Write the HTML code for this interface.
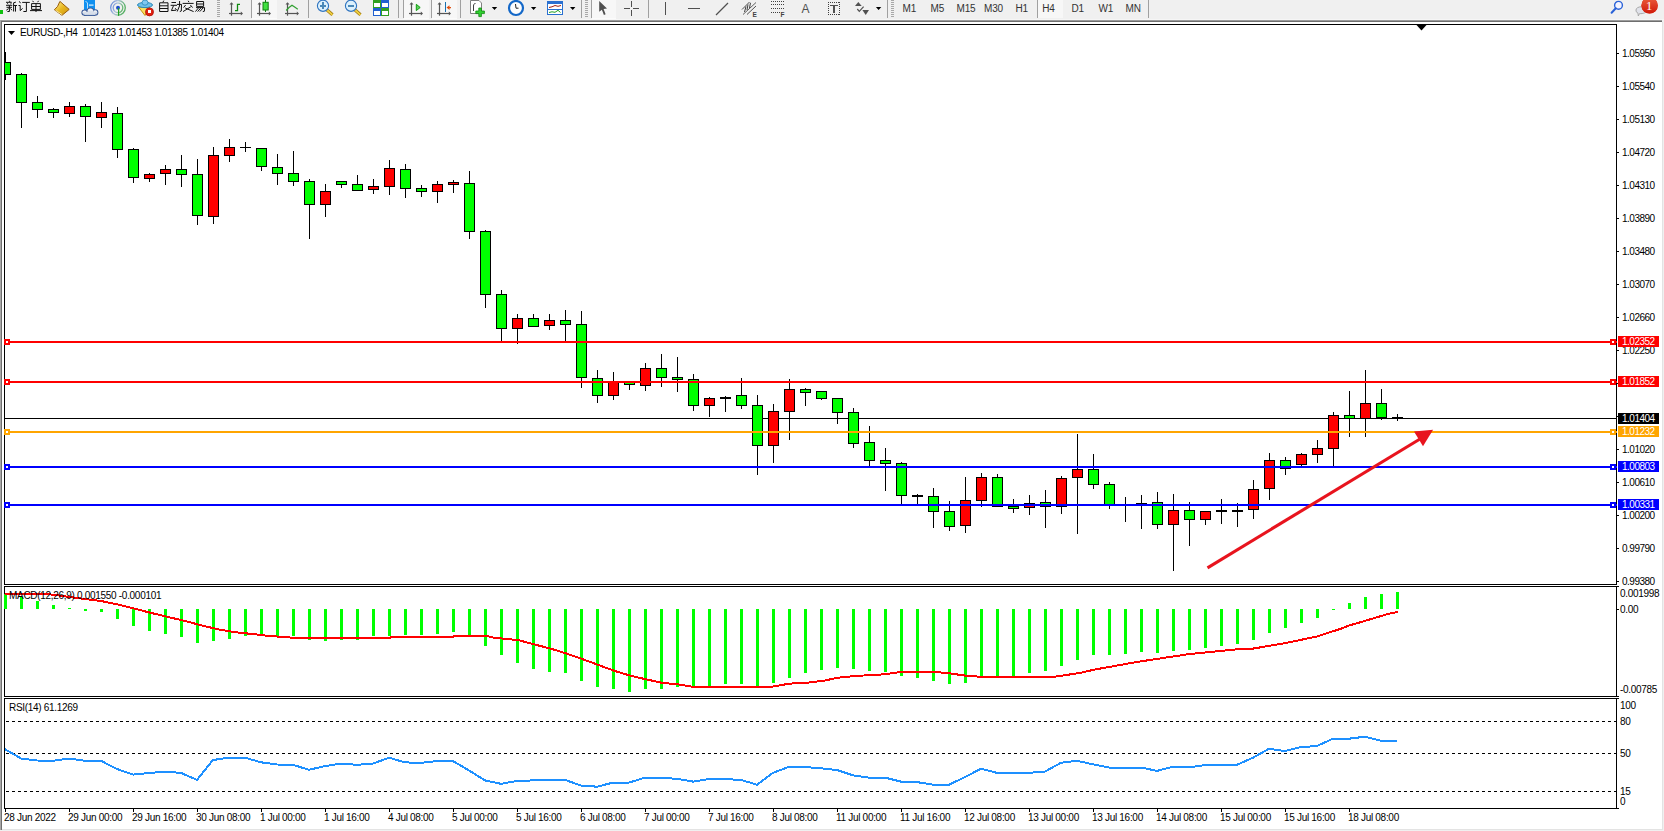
<!DOCTYPE html>
<html><head><meta charset="utf-8"><title>MT4</title><style>
html,body{margin:0;padding:0;width:1664px;height:831px;overflow:hidden;background:#f0f0f0;}
svg{position:absolute;left:0;top:0;font-family:"Liberation Sans",sans-serif;}
</style></head><body>
<svg width="1664" height="831" viewBox="0 0 1664 831" shape-rendering="crispEdges">
<rect x="0" y="0" width="1664" height="831" fill="#f0f0f0"/>
<rect x="0" y="19" width="1664" height="1" fill="#f6f6f6"/>
<rect x="0" y="20" width="1662" height="1" fill="#9c9c9c"/>
<rect x="0" y="21" width="1662" height="1" fill="#6e6e6e"/>
<rect x="2" y="22" width="1660" height="807" fill="#ffffff"/>
<rect x="0" y="20" width="1" height="810" fill="#a8a8a8"/>
<rect x="1" y="21" width="1" height="809" fill="#707070"/>
<rect x="1662" y="22" width="1" height="808" fill="#e3e3e3"/>
<rect x="2" y="829" width="1661" height="1" fill="#e3e3e3"/>
<rect x="5" y="418" width="1611" height="1" fill="#000"/>
<defs><clipPath id="cc"><rect x="5" y="25" width="1611" height="559"/></clipPath></defs><g clip-path="url(#cc)">
<rect x="5" y="52" width="1" height="28" fill="#000"/>
<rect x="0" y="62" width="11" height="13" fill="#000"/>
<rect x="1" y="63" width="9" height="11" fill="#00ff00"/>
<rect x="21" y="73" width="1" height="55" fill="#000"/>
<rect x="16" y="74" width="11" height="29" fill="#000"/>
<rect x="17" y="75" width="9" height="27" fill="#00ff00"/>
<rect x="37" y="96" width="1" height="22" fill="#000"/>
<rect x="32" y="102" width="11" height="8" fill="#000"/>
<rect x="33" y="103" width="9" height="6" fill="#00ff00"/>
<rect x="53" y="108" width="1" height="10" fill="#000"/>
<rect x="48" y="109" width="11" height="4" fill="#000"/>
<rect x="49" y="110" width="9" height="2" fill="#00ff00"/>
<rect x="69" y="102" width="1" height="15" fill="#000"/>
<rect x="64" y="106" width="11" height="8" fill="#000"/>
<rect x="65" y="107" width="9" height="6" fill="#ff0000"/>
<rect x="85" y="104" width="1" height="38" fill="#000"/>
<rect x="80" y="106" width="11" height="11" fill="#000"/>
<rect x="81" y="107" width="9" height="9" fill="#00ff00"/>
<rect x="101" y="102" width="1" height="26" fill="#000"/>
<rect x="96" y="112" width="11" height="6" fill="#000"/>
<rect x="97" y="113" width="9" height="4" fill="#ff0000"/>
<rect x="117" y="107" width="1" height="51" fill="#000"/>
<rect x="112" y="113" width="11" height="37" fill="#000"/>
<rect x="113" y="114" width="9" height="35" fill="#00ff00"/>
<rect x="133" y="148" width="1" height="35" fill="#000"/>
<rect x="128" y="149" width="11" height="29" fill="#000"/>
<rect x="129" y="150" width="9" height="27" fill="#00ff00"/>
<rect x="149" y="173" width="1" height="9" fill="#000"/>
<rect x="144" y="174" width="11" height="5" fill="#000"/>
<rect x="145" y="175" width="9" height="3" fill="#ff0000"/>
<rect x="165" y="165" width="1" height="20" fill="#000"/>
<rect x="160" y="169" width="11" height="5" fill="#000"/>
<rect x="161" y="170" width="9" height="3" fill="#ff0000"/>
<rect x="181" y="155" width="1" height="32" fill="#000"/>
<rect x="176" y="169" width="11" height="6" fill="#000"/>
<rect x="177" y="170" width="9" height="4" fill="#00ff00"/>
<rect x="197" y="159" width="1" height="66" fill="#000"/>
<rect x="192" y="174" width="11" height="42" fill="#000"/>
<rect x="193" y="175" width="9" height="40" fill="#00ff00"/>
<rect x="213" y="147" width="1" height="77" fill="#000"/>
<rect x="208" y="155" width="11" height="62" fill="#000"/>
<rect x="209" y="156" width="9" height="60" fill="#ff0000"/>
<rect x="229" y="139" width="1" height="23" fill="#000"/>
<rect x="224" y="147" width="11" height="9" fill="#000"/>
<rect x="225" y="148" width="9" height="7" fill="#ff0000"/>
<rect x="245" y="142" width="1" height="10" fill="#000"/>
<rect x="240" y="147" width="11" height="1" fill="#000"/>
<rect x="261" y="148" width="1" height="23" fill="#000"/>
<rect x="256" y="148" width="11" height="19" fill="#000"/>
<rect x="257" y="149" width="9" height="17" fill="#00ff00"/>
<rect x="277" y="154" width="1" height="31" fill="#000"/>
<rect x="272" y="167" width="11" height="7" fill="#000"/>
<rect x="273" y="168" width="9" height="5" fill="#00ff00"/>
<rect x="293" y="151" width="1" height="35" fill="#000"/>
<rect x="288" y="173" width="11" height="9" fill="#000"/>
<rect x="289" y="174" width="9" height="7" fill="#00ff00"/>
<rect x="309" y="179" width="1" height="60" fill="#000"/>
<rect x="304" y="181" width="11" height="24" fill="#000"/>
<rect x="305" y="182" width="9" height="22" fill="#00ff00"/>
<rect x="325" y="184" width="1" height="33" fill="#000"/>
<rect x="320" y="191" width="11" height="14" fill="#000"/>
<rect x="321" y="192" width="9" height="12" fill="#ff0000"/>
<rect x="341" y="181" width="1" height="7" fill="#000"/>
<rect x="336" y="181" width="11" height="4" fill="#000"/>
<rect x="337" y="182" width="9" height="2" fill="#00ff00"/>
<rect x="357" y="175" width="1" height="16" fill="#000"/>
<rect x="352" y="184" width="11" height="7" fill="#000"/>
<rect x="353" y="185" width="9" height="5" fill="#00ff00"/>
<rect x="373" y="179" width="1" height="15" fill="#000"/>
<rect x="368" y="186" width="11" height="4" fill="#000"/>
<rect x="369" y="187" width="9" height="2" fill="#ff0000"/>
<rect x="389" y="160" width="1" height="35" fill="#000"/>
<rect x="384" y="168" width="11" height="19" fill="#000"/>
<rect x="385" y="169" width="9" height="17" fill="#ff0000"/>
<rect x="405" y="164" width="1" height="34" fill="#000"/>
<rect x="400" y="169" width="11" height="20" fill="#000"/>
<rect x="401" y="170" width="9" height="18" fill="#00ff00"/>
<rect x="421" y="185" width="1" height="12" fill="#000"/>
<rect x="416" y="188" width="11" height="4" fill="#000"/>
<rect x="417" y="189" width="9" height="2" fill="#00ff00"/>
<rect x="437" y="181" width="1" height="22" fill="#000"/>
<rect x="432" y="184" width="11" height="8" fill="#000"/>
<rect x="433" y="185" width="9" height="6" fill="#ff0000"/>
<rect x="453" y="180" width="1" height="13" fill="#000"/>
<rect x="448" y="182" width="11" height="3" fill="#000"/>
<rect x="449" y="183" width="9" height="1" fill="#ff0000"/>
<rect x="469" y="171" width="1" height="68" fill="#000"/>
<rect x="464" y="183" width="11" height="49" fill="#000"/>
<rect x="465" y="184" width="9" height="47" fill="#00ff00"/>
<rect x="485" y="230" width="1" height="78" fill="#000"/>
<rect x="480" y="231" width="11" height="64" fill="#000"/>
<rect x="481" y="232" width="9" height="62" fill="#00ff00"/>
<rect x="501" y="290" width="1" height="52" fill="#000"/>
<rect x="496" y="294" width="11" height="35" fill="#000"/>
<rect x="497" y="295" width="9" height="33" fill="#00ff00"/>
<rect x="517" y="314" width="1" height="30" fill="#000"/>
<rect x="512" y="318" width="11" height="11" fill="#000"/>
<rect x="513" y="319" width="9" height="9" fill="#ff0000"/>
<rect x="533" y="314" width="1" height="13" fill="#000"/>
<rect x="528" y="318" width="11" height="9" fill="#000"/>
<rect x="529" y="319" width="9" height="7" fill="#00ff00"/>
<rect x="549" y="314" width="1" height="16" fill="#000"/>
<rect x="544" y="320" width="11" height="6" fill="#000"/>
<rect x="545" y="321" width="9" height="4" fill="#ff0000"/>
<rect x="565" y="310" width="1" height="32" fill="#000"/>
<rect x="560" y="320" width="11" height="5" fill="#000"/>
<rect x="561" y="321" width="9" height="3" fill="#00ff00"/>
<rect x="581" y="311" width="1" height="77" fill="#000"/>
<rect x="576" y="324" width="11" height="54" fill="#000"/>
<rect x="577" y="325" width="9" height="52" fill="#00ff00"/>
<rect x="597" y="370" width="1" height="33" fill="#000"/>
<rect x="592" y="378" width="11" height="18" fill="#000"/>
<rect x="593" y="379" width="9" height="16" fill="#00ff00"/>
<rect x="613" y="372" width="1" height="28" fill="#000"/>
<rect x="608" y="381" width="11" height="15" fill="#000"/>
<rect x="609" y="382" width="9" height="13" fill="#ff0000"/>
<rect x="629" y="381" width="1" height="9" fill="#000"/>
<rect x="624" y="381" width="11" height="4" fill="#000"/>
<rect x="625" y="382" width="9" height="2" fill="#00ff00"/>
<rect x="645" y="363" width="1" height="28" fill="#000"/>
<rect x="640" y="368" width="11" height="18" fill="#000"/>
<rect x="641" y="369" width="9" height="16" fill="#ff0000"/>
<rect x="661" y="354" width="1" height="33" fill="#000"/>
<rect x="656" y="368" width="11" height="10" fill="#000"/>
<rect x="657" y="369" width="9" height="8" fill="#00ff00"/>
<rect x="677" y="357" width="1" height="35" fill="#000"/>
<rect x="672" y="377" width="11" height="3" fill="#000"/>
<rect x="673" y="378" width="9" height="1" fill="#00ff00"/>
<rect x="693" y="374" width="1" height="37" fill="#000"/>
<rect x="688" y="379" width="11" height="27" fill="#000"/>
<rect x="689" y="380" width="9" height="25" fill="#00ff00"/>
<rect x="709" y="397" width="1" height="20" fill="#000"/>
<rect x="704" y="398" width="11" height="8" fill="#000"/>
<rect x="705" y="399" width="9" height="6" fill="#ff0000"/>
<rect x="725" y="396" width="1" height="16" fill="#000"/>
<rect x="720" y="397" width="11" height="2" fill="#000"/>
<rect x="741" y="378" width="1" height="31" fill="#000"/>
<rect x="736" y="395" width="11" height="11" fill="#000"/>
<rect x="737" y="396" width="9" height="9" fill="#00ff00"/>
<rect x="757" y="395" width="1" height="80" fill="#000"/>
<rect x="752" y="405" width="11" height="41" fill="#000"/>
<rect x="753" y="406" width="9" height="39" fill="#00ff00"/>
<rect x="773" y="404" width="1" height="59" fill="#000"/>
<rect x="768" y="411" width="11" height="35" fill="#000"/>
<rect x="769" y="412" width="9" height="33" fill="#ff0000"/>
<rect x="789" y="379" width="1" height="61" fill="#000"/>
<rect x="784" y="389" width="11" height="23" fill="#000"/>
<rect x="785" y="390" width="9" height="21" fill="#ff0000"/>
<rect x="805" y="388" width="1" height="18" fill="#000"/>
<rect x="800" y="389" width="11" height="4" fill="#000"/>
<rect x="801" y="390" width="9" height="2" fill="#00ff00"/>
<rect x="821" y="391" width="1" height="9" fill="#000"/>
<rect x="816" y="391" width="11" height="8" fill="#000"/>
<rect x="817" y="392" width="9" height="6" fill="#00ff00"/>
<rect x="837" y="398" width="1" height="26" fill="#000"/>
<rect x="832" y="398" width="11" height="15" fill="#000"/>
<rect x="833" y="399" width="9" height="13" fill="#00ff00"/>
<rect x="853" y="408" width="1" height="40" fill="#000"/>
<rect x="848" y="412" width="11" height="32" fill="#000"/>
<rect x="849" y="413" width="9" height="30" fill="#00ff00"/>
<rect x="869" y="426" width="1" height="41" fill="#000"/>
<rect x="864" y="442" width="11" height="19" fill="#000"/>
<rect x="865" y="443" width="9" height="17" fill="#00ff00"/>
<rect x="885" y="448" width="1" height="43" fill="#000"/>
<rect x="880" y="460" width="11" height="4" fill="#000"/>
<rect x="881" y="461" width="9" height="2" fill="#00ff00"/>
<rect x="901" y="462" width="1" height="43" fill="#000"/>
<rect x="896" y="463" width="11" height="33" fill="#000"/>
<rect x="897" y="464" width="9" height="31" fill="#00ff00"/>
<rect x="917" y="494" width="1" height="11" fill="#000"/>
<rect x="912" y="495" width="11" height="2" fill="#000"/>
<rect x="933" y="488" width="1" height="40" fill="#000"/>
<rect x="928" y="496" width="11" height="16" fill="#000"/>
<rect x="929" y="497" width="9" height="14" fill="#00ff00"/>
<rect x="949" y="501" width="1" height="30" fill="#000"/>
<rect x="944" y="511" width="11" height="16" fill="#000"/>
<rect x="945" y="512" width="9" height="14" fill="#00ff00"/>
<rect x="965" y="477" width="1" height="56" fill="#000"/>
<rect x="960" y="500" width="11" height="26" fill="#000"/>
<rect x="961" y="501" width="9" height="24" fill="#ff0000"/>
<rect x="981" y="473" width="1" height="34" fill="#000"/>
<rect x="976" y="477" width="11" height="24" fill="#000"/>
<rect x="977" y="478" width="9" height="22" fill="#ff0000"/>
<rect x="997" y="474" width="1" height="33" fill="#000"/>
<rect x="992" y="477" width="11" height="30" fill="#000"/>
<rect x="993" y="478" width="9" height="28" fill="#00ff00"/>
<rect x="1013" y="499" width="1" height="14" fill="#000"/>
<rect x="1008" y="506" width="11" height="3" fill="#000"/>
<rect x="1009" y="507" width="9" height="1" fill="#00ff00"/>
<rect x="1029" y="495" width="1" height="20" fill="#000"/>
<rect x="1024" y="503" width="11" height="5" fill="#000"/>
<rect x="1025" y="504" width="9" height="3" fill="#ff0000"/>
<rect x="1045" y="490" width="1" height="38" fill="#000"/>
<rect x="1040" y="502" width="11" height="5" fill="#000"/>
<rect x="1041" y="503" width="9" height="3" fill="#00ff00"/>
<rect x="1061" y="476" width="1" height="38" fill="#000"/>
<rect x="1056" y="478" width="11" height="29" fill="#000"/>
<rect x="1057" y="479" width="9" height="27" fill="#ff0000"/>
<rect x="1077" y="434" width="1" height="100" fill="#000"/>
<rect x="1072" y="469" width="11" height="9" fill="#000"/>
<rect x="1073" y="470" width="9" height="7" fill="#ff0000"/>
<rect x="1093" y="454" width="1" height="35" fill="#000"/>
<rect x="1088" y="469" width="11" height="16" fill="#000"/>
<rect x="1089" y="470" width="9" height="14" fill="#00ff00"/>
<rect x="1109" y="482" width="1" height="27" fill="#000"/>
<rect x="1104" y="484" width="11" height="21" fill="#000"/>
<rect x="1105" y="485" width="9" height="19" fill="#00ff00"/>
<rect x="1125" y="497" width="1" height="25" fill="#000"/>
<rect x="1120" y="504" width="11" height="2" fill="#000"/>
<rect x="1141" y="495" width="1" height="34" fill="#000"/>
<rect x="1136" y="503" width="11" height="2" fill="#000"/>
<rect x="1157" y="492" width="1" height="37" fill="#000"/>
<rect x="1152" y="502" width="11" height="23" fill="#000"/>
<rect x="1153" y="503" width="9" height="21" fill="#00ff00"/>
<rect x="1173" y="494" width="1" height="77" fill="#000"/>
<rect x="1168" y="510" width="11" height="15" fill="#000"/>
<rect x="1169" y="511" width="9" height="13" fill="#ff0000"/>
<rect x="1189" y="502" width="1" height="44" fill="#000"/>
<rect x="1184" y="510" width="11" height="10" fill="#000"/>
<rect x="1185" y="511" width="9" height="8" fill="#00ff00"/>
<rect x="1205" y="511" width="1" height="14" fill="#000"/>
<rect x="1200" y="511" width="11" height="9" fill="#000"/>
<rect x="1201" y="512" width="9" height="7" fill="#ff0000"/>
<rect x="1221" y="499" width="1" height="25" fill="#000"/>
<rect x="1216" y="510" width="11" height="2" fill="#000"/>
<rect x="1237" y="503" width="1" height="24" fill="#000"/>
<rect x="1232" y="510" width="11" height="2" fill="#000"/>
<rect x="1253" y="480" width="1" height="39" fill="#000"/>
<rect x="1248" y="489" width="11" height="21" fill="#000"/>
<rect x="1249" y="490" width="9" height="19" fill="#ff0000"/>
<rect x="1269" y="453" width="1" height="47" fill="#000"/>
<rect x="1264" y="460" width="11" height="29" fill="#000"/>
<rect x="1265" y="461" width="9" height="27" fill="#ff0000"/>
<rect x="1285" y="457" width="1" height="18" fill="#000"/>
<rect x="1280" y="460" width="11" height="9" fill="#000"/>
<rect x="1281" y="461" width="9" height="7" fill="#00ff00"/>
<rect x="1301" y="453" width="1" height="13" fill="#000"/>
<rect x="1296" y="454" width="11" height="11" fill="#000"/>
<rect x="1297" y="455" width="9" height="9" fill="#ff0000"/>
<rect x="1317" y="440" width="1" height="23" fill="#000"/>
<rect x="1312" y="448" width="11" height="7" fill="#000"/>
<rect x="1313" y="449" width="9" height="5" fill="#ff0000"/>
<rect x="1333" y="412" width="1" height="54" fill="#000"/>
<rect x="1328" y="415" width="11" height="34" fill="#000"/>
<rect x="1329" y="416" width="9" height="32" fill="#ff0000"/>
<rect x="1349" y="391" width="1" height="46" fill="#000"/>
<rect x="1344" y="415" width="11" height="4" fill="#000"/>
<rect x="1345" y="416" width="9" height="2" fill="#00ff00"/>
<rect x="1365" y="370" width="1" height="67" fill="#000"/>
<rect x="1360" y="403" width="11" height="16" fill="#000"/>
<rect x="1361" y="404" width="9" height="14" fill="#ff0000"/>
<rect x="1381" y="389" width="1" height="31" fill="#000"/>
<rect x="1376" y="403" width="11" height="15" fill="#000"/>
<rect x="1377" y="404" width="9" height="13" fill="#00ff00"/>
<rect x="1397" y="414" width="1" height="7" fill="#000"/>
<rect x="1392" y="417" width="11" height="2" fill="#000"/>
</g>
<rect x="4" y="24" width="1613" height="1" fill="#000"/>
<rect x="4" y="584" width="1613" height="1" fill="#000"/>
<rect x="4" y="24" width="1" height="561" fill="#000"/>
<rect x="1616" y="24" width="1" height="561" fill="#000"/>
<rect x="4" y="586" width="1613" height="1" fill="#000"/>
<rect x="4" y="696" width="1613" height="1" fill="#000"/>
<rect x="4" y="586" width="1" height="111" fill="#000"/>
<rect x="1616" y="586" width="1" height="111" fill="#000"/>
<rect x="4" y="698" width="1613" height="1" fill="#000"/>
<rect x="4" y="808" width="1613" height="1" fill="#000"/>
<rect x="4" y="698" width="1" height="111" fill="#000"/>
<rect x="1616" y="698" width="1" height="111" fill="#000"/>
<rect x="5" y="341" width="1612" height="2" fill="#ff0000"/>
<rect x="4" y="339" width="6" height="6" fill="#ff0000"/>
<rect x="6" y="341" width="2" height="2" fill="#fff"/>
<rect x="1610" y="339" width="6" height="6" fill="#ff0000"/>
<rect x="1612" y="341" width="2" height="2" fill="#fff"/>
<rect x="5" y="381" width="1612" height="2" fill="#ff0000"/>
<rect x="4" y="379" width="6" height="6" fill="#ff0000"/>
<rect x="6" y="381" width="2" height="2" fill="#fff"/>
<rect x="1610" y="379" width="6" height="6" fill="#ff0000"/>
<rect x="1612" y="381" width="2" height="2" fill="#fff"/>
<rect x="5" y="431" width="1612" height="2" fill="#ffa500"/>
<rect x="4" y="429" width="6" height="6" fill="#ffa500"/>
<rect x="6" y="431" width="2" height="2" fill="#fff"/>
<rect x="1610" y="429" width="6" height="6" fill="#ffa500"/>
<rect x="1612" y="431" width="2" height="2" fill="#fff"/>
<rect x="5" y="466" width="1612" height="2" fill="#0000ff"/>
<rect x="4" y="464" width="6" height="6" fill="#0000ff"/>
<rect x="6" y="466" width="2" height="2" fill="#fff"/>
<rect x="1610" y="464" width="6" height="6" fill="#0000ff"/>
<rect x="1612" y="466" width="2" height="2" fill="#fff"/>
<rect x="5" y="504" width="1612" height="2" fill="#0000ff"/>
<rect x="4" y="502" width="6" height="6" fill="#0000ff"/>
<rect x="6" y="504" width="2" height="2" fill="#fff"/>
<rect x="1610" y="502" width="6" height="6" fill="#0000ff"/>
<rect x="1612" y="504" width="2" height="2" fill="#fff"/>
<rect x="1617" y="53" width="2" height="1" fill="#000"/>
<text x="1622" y="57" font-size="10" letter-spacing="-0.5" fill="#000">1.05950</text>
<rect x="1617" y="86" width="2" height="1" fill="#000"/>
<text x="1622" y="90" font-size="10" letter-spacing="-0.5" fill="#000">1.05540</text>
<rect x="1617" y="119" width="2" height="1" fill="#000"/>
<text x="1622" y="123" font-size="10" letter-spacing="-0.5" fill="#000">1.05130</text>
<rect x="1617" y="152" width="2" height="1" fill="#000"/>
<text x="1622" y="156" font-size="10" letter-spacing="-0.5" fill="#000">1.04720</text>
<rect x="1617" y="185" width="2" height="1" fill="#000"/>
<text x="1622" y="189" font-size="10" letter-spacing="-0.5" fill="#000">1.04310</text>
<rect x="1617" y="218" width="2" height="1" fill="#000"/>
<text x="1622" y="222" font-size="10" letter-spacing="-0.5" fill="#000">1.03890</text>
<rect x="1617" y="251" width="2" height="1" fill="#000"/>
<text x="1622" y="255" font-size="10" letter-spacing="-0.5" fill="#000">1.03480</text>
<rect x="1617" y="284" width="2" height="1" fill="#000"/>
<text x="1622" y="288" font-size="10" letter-spacing="-0.5" fill="#000">1.03070</text>
<rect x="1617" y="317" width="2" height="1" fill="#000"/>
<text x="1622" y="321" font-size="10" letter-spacing="-0.5" fill="#000">1.02660</text>
<rect x="1617" y="350" width="2" height="1" fill="#000"/>
<text x="1622" y="354" font-size="10" letter-spacing="-0.5" fill="#000">1.02250</text>
<rect x="1617" y="449" width="2" height="1" fill="#000"/>
<text x="1622" y="453" font-size="10" letter-spacing="-0.5" fill="#000">1.01020</text>
<rect x="1617" y="482" width="2" height="1" fill="#000"/>
<text x="1622" y="486" font-size="10" letter-spacing="-0.5" fill="#000">1.00610</text>
<rect x="1617" y="515" width="2" height="1" fill="#000"/>
<text x="1622" y="519" font-size="10" letter-spacing="-0.5" fill="#000">1.00200</text>
<rect x="1617" y="548" width="2" height="1" fill="#000"/>
<text x="1622" y="552" font-size="10" letter-spacing="-0.5" fill="#000">0.99790</text>
<rect x="1617" y="581" width="2" height="1" fill="#000"/>
<text x="1622" y="585" font-size="10" letter-spacing="-0.5" fill="#000">0.99380</text>
<rect x="1617" y="383" width="2" height="1" fill="#000"/>
<rect x="1617" y="416" width="2" height="1" fill="#000"/>
<rect x="1618" y="336" width="41" height="11" fill="#ff0000"/>
<text x="1622" y="345" font-size="10" letter-spacing="-0.5" fill="#fff">1.02352</text>
<rect x="1618" y="376" width="41" height="11" fill="#ff0000"/>
<text x="1622" y="385" font-size="10" letter-spacing="-0.5" fill="#fff">1.01852</text>
<rect x="1618" y="413" width="41" height="11" fill="#000"/>
<text x="1622" y="422" font-size="10" letter-spacing="-0.5" fill="#fff">1.01404</text>
<rect x="1618" y="426" width="41" height="11" fill="#ffa500"/>
<text x="1622" y="435" font-size="10" letter-spacing="-0.5" fill="#fff">1.01232</text>
<rect x="1618" y="461" width="41" height="11" fill="#0000ff"/>
<text x="1622" y="470" font-size="10" letter-spacing="-0.5" fill="#fff">1.00803</text>
<rect x="1618" y="499" width="41" height="11" fill="#0000ff"/>
<text x="1622" y="508" font-size="10" letter-spacing="-0.5" fill="#fff">1.00331</text>
<path d="M8 31 L15 31 L11.5 35 Z" fill="#000" shape-rendering="geometricPrecision"/>
<text x="20" y="36" font-size="10" letter-spacing="-0.37" fill="#000">EURUSD-,H4&#160;&#160;1.01423 1.01453 1.01385 1.01404</text>
<path d="M1416.5 25 L1426.5 25 L1421.5 30.5 Z" fill="#000" shape-rendering="geometricPrecision"/>
<rect x="4" y="594" width="3" height="15" fill="#00ff00"/>
<rect x="20" y="597" width="3" height="12" fill="#00ff00"/>
<rect x="36" y="601" width="3" height="8" fill="#00ff00"/>
<rect x="52" y="605" width="3" height="4" fill="#00ff00"/>
<rect x="68" y="608" width="3" height="1" fill="#00ff00"/>
<rect x="84" y="609" width="3" height="2" fill="#00ff00"/>
<rect x="100" y="609" width="3" height="3" fill="#00ff00"/>
<rect x="116" y="609" width="3" height="10" fill="#00ff00"/>
<rect x="132" y="609" width="3" height="17" fill="#00ff00"/>
<rect x="148" y="609" width="3" height="22" fill="#00ff00"/>
<rect x="164" y="609" width="3" height="25" fill="#00ff00"/>
<rect x="180" y="609" width="3" height="28" fill="#00ff00"/>
<rect x="196" y="609" width="3" height="34" fill="#00ff00"/>
<rect x="212" y="609" width="3" height="32" fill="#00ff00"/>
<rect x="228" y="609" width="3" height="30" fill="#00ff00"/>
<rect x="244" y="609" width="3" height="27" fill="#00ff00"/>
<rect x="260" y="609" width="3" height="27" fill="#00ff00"/>
<rect x="276" y="609" width="3" height="27" fill="#00ff00"/>
<rect x="292" y="609" width="3" height="27" fill="#00ff00"/>
<rect x="308" y="609" width="3" height="31" fill="#00ff00"/>
<rect x="324" y="609" width="3" height="32" fill="#00ff00"/>
<rect x="340" y="609" width="3" height="31" fill="#00ff00"/>
<rect x="356" y="609" width="3" height="31" fill="#00ff00"/>
<rect x="372" y="609" width="3" height="27" fill="#00ff00"/>
<rect x="388" y="609" width="3" height="27" fill="#00ff00"/>
<rect x="404" y="609" width="3" height="26" fill="#00ff00"/>
<rect x="420" y="609" width="3" height="26" fill="#00ff00"/>
<rect x="436" y="609" width="3" height="25" fill="#00ff00"/>
<rect x="452" y="609" width="3" height="23" fill="#00ff00"/>
<rect x="468" y="609" width="3" height="26" fill="#00ff00"/>
<rect x="484" y="609" width="3" height="37" fill="#00ff00"/>
<rect x="500" y="609" width="3" height="46" fill="#00ff00"/>
<rect x="516" y="609" width="3" height="54" fill="#00ff00"/>
<rect x="532" y="609" width="3" height="60" fill="#00ff00"/>
<rect x="548" y="609" width="3" height="63" fill="#00ff00"/>
<rect x="564" y="609" width="3" height="64" fill="#00ff00"/>
<rect x="580" y="609" width="3" height="72" fill="#00ff00"/>
<rect x="596" y="609" width="3" height="78" fill="#00ff00"/>
<rect x="612" y="609" width="3" height="80" fill="#00ff00"/>
<rect x="628" y="609" width="3" height="83" fill="#00ff00"/>
<rect x="644" y="609" width="3" height="80" fill="#00ff00"/>
<rect x="660" y="609" width="3" height="80" fill="#00ff00"/>
<rect x="676" y="609" width="3" height="78" fill="#00ff00"/>
<rect x="692" y="609" width="3" height="78" fill="#00ff00"/>
<rect x="708" y="609" width="3" height="77" fill="#00ff00"/>
<rect x="724" y="609" width="3" height="75" fill="#00ff00"/>
<rect x="740" y="609" width="3" height="75" fill="#00ff00"/>
<rect x="756" y="609" width="3" height="77" fill="#00ff00"/>
<rect x="772" y="609" width="3" height="74" fill="#00ff00"/>
<rect x="788" y="609" width="3" height="69" fill="#00ff00"/>
<rect x="804" y="609" width="3" height="64" fill="#00ff00"/>
<rect x="820" y="609" width="3" height="61" fill="#00ff00"/>
<rect x="836" y="609" width="3" height="59" fill="#00ff00"/>
<rect x="852" y="609" width="3" height="60" fill="#00ff00"/>
<rect x="868" y="609" width="3" height="62" fill="#00ff00"/>
<rect x="884" y="609" width="3" height="63" fill="#00ff00"/>
<rect x="900" y="609" width="3" height="67" fill="#00ff00"/>
<rect x="916" y="609" width="3" height="69" fill="#00ff00"/>
<rect x="932" y="609" width="3" height="72" fill="#00ff00"/>
<rect x="948" y="609" width="3" height="75" fill="#00ff00"/>
<rect x="964" y="609" width="3" height="74" fill="#00ff00"/>
<rect x="980" y="609" width="3" height="69" fill="#00ff00"/>
<rect x="996" y="609" width="3" height="67" fill="#00ff00"/>
<rect x="1012" y="609" width="3" height="67" fill="#00ff00"/>
<rect x="1028" y="609" width="3" height="64" fill="#00ff00"/>
<rect x="1044" y="609" width="3" height="62" fill="#00ff00"/>
<rect x="1060" y="609" width="3" height="57" fill="#00ff00"/>
<rect x="1076" y="609" width="3" height="51" fill="#00ff00"/>
<rect x="1092" y="609" width="3" height="46" fill="#00ff00"/>
<rect x="1108" y="609" width="3" height="46" fill="#00ff00"/>
<rect x="1124" y="609" width="3" height="45" fill="#00ff00"/>
<rect x="1140" y="609" width="3" height="43" fill="#00ff00"/>
<rect x="1156" y="609" width="3" height="44" fill="#00ff00"/>
<rect x="1172" y="609" width="3" height="42" fill="#00ff00"/>
<rect x="1188" y="609" width="3" height="41" fill="#00ff00"/>
<rect x="1204" y="609" width="3" height="39" fill="#00ff00"/>
<rect x="1220" y="609" width="3" height="37" fill="#00ff00"/>
<rect x="1236" y="609" width="3" height="35" fill="#00ff00"/>
<rect x="1252" y="609" width="3" height="31" fill="#00ff00"/>
<rect x="1268" y="609" width="3" height="24" fill="#00ff00"/>
<rect x="1284" y="609" width="3" height="19" fill="#00ff00"/>
<rect x="1300" y="609" width="3" height="14" fill="#00ff00"/>
<rect x="1316" y="609" width="3" height="9" fill="#00ff00"/>
<rect x="1332" y="609" width="3" height="1" fill="#00ff00"/>
<rect x="1348" y="603" width="3" height="6" fill="#00ff00"/>
<rect x="1364" y="597" width="3" height="12" fill="#00ff00"/>
<rect x="1380" y="594" width="3" height="15" fill="#00ff00"/>
<rect x="1396" y="592" width="3" height="17" fill="#00ff00"/>
<polyline points="5,593.6 50.5,594.4 75.7,597.8 101,601 117.8,604.5 134.6,608.7 151.4,613 168,617 185,621 202,625.5 218.7,629.4 235.6,632.3 252.4,634 269,636 277,636.5 294,637.8 390,637.8 391.5,636.5 453.7,636.5 454.6,635.6 485,635.6 494,637.8 517.7,640 532.8,644 552,649 565.9,653.3 582.7,659.2 597.8,664.7 614.7,671 631.5,676 646.6,679.4 661.8,682.8 678.6,684.4 692,686.6 772.8,686.6 789.7,683.6 806.5,682.8 824,680.7 837.9,677.7 854.7,676 885,674.3 901.8,671.8 933.8,671.8 950.6,673.5 965.8,675.7 982.6,676.9 1053,676.9 1078.5,673.2 1096,669.3 1138.5,661.7 1189,654.1 1239.4,649.1 1253,648.6 1284.9,643.2 1316.8,636.5 1340.4,628.9 1349,625.5 1359.2,622.6 1368.9,619.7 1378.5,616.8 1388.1,613.9 1397.7,612" fill="none" stroke="#ff0000" stroke-width="2" shape-rendering="crispEdges"/>
<text x="9" y="599" font-size="10" letter-spacing="-0.3" fill="#000">MACD(12,26,9) 0.001550 -0.000101</text>
<rect x="1617" y="586" width="2" height="1" fill="#000"/>
<rect x="1617" y="609" width="2" height="1" fill="#000"/>
<rect x="1617" y="696" width="2" height="1" fill="#000"/>
<text x="1620" y="597" font-size="10" letter-spacing="-0.3" fill="#000">0.001998</text>
<text x="1620" y="613" font-size="10" letter-spacing="-0.3" fill="#000">0.00</text>
<text x="1620" y="693" font-size="10" letter-spacing="-0.3" fill="#000">-0.00785</text>
<line x1="6" y1="721.5" x2="1616" y2="721.5" stroke="#000" stroke-width="1" stroke-dasharray="3,3"/>
<line x1="6" y1="753.5" x2="1616" y2="753.5" stroke="#000" stroke-width="1" stroke-dasharray="3,3"/>
<line x1="6" y1="791.5" x2="1616" y2="791.5" stroke="#000" stroke-width="1" stroke-dasharray="3,3"/>
<polyline points="5,749.3 21,758.5 37,760.5 53,760.8 69,758.6 85,760.8 101,760.8 117,769 133,774.6 149,773 165,771.7 181,772.9 197,779.9 213,760 229,757.7 245,757.7 261,762.3 277,764.5 293,764.8 309,769.8 325,766.1 341,763.6 357,764.8 373,763.6 389,757.7 405,762.4 421,762.8 437,761.1 453,761.1 469,770.4 485,780.4 501,783.8 517,781 533,780.4 549,779.9 565,779.9 581,785.5 597,786.7 613,782.6 629,782.6 645,777.6 661,777.9 677,778.8 693,781.6 709,779.1 725,779.1 741,779.9 757,784.7 773,772.9 789,766.7 805,767 821,768.3 837,770 853,775.4 869,777.6 885,777.6 901,781.6 917,782.1 933,784.7 949,784.7 965,777.1 981,768.7 997,772.9 1013,772.9 1029,772.9 1045,771.5 1061,762.8 1077,760.8 1093,764.3 1109,767.5 1125,767.5 1141,767.5 1157,770.9 1173,766.7 1189,767.5 1205,765 1221,764.8 1237,764.8 1253,757.7 1269,748.8 1285,751 1301,747.1 1317,746 1333,738.7 1349,738.7 1365,736.7 1381,740.7 1397,740.7" fill="none" stroke="#1e90ff" stroke-width="2" shape-rendering="crispEdges"/>
<text x="9" y="711" font-size="10" letter-spacing="-0.3" fill="#000">RSI(14) 61.1269</text>
<text x="1620" y="709" font-size="10" letter-spacing="-0.3" fill="#000">100</text>
<text x="1620" y="725" font-size="10" letter-spacing="-0.3" fill="#000">80</text>
<text x="1620" y="757" font-size="10" letter-spacing="-0.3" fill="#000">50</text>
<text x="1620" y="795" font-size="10" letter-spacing="-0.3" fill="#000">15</text>
<text x="1620" y="805" font-size="10" letter-spacing="-0.3" fill="#000">0</text>
<rect x="1617" y="698" width="2" height="1" fill="#000"/>
<rect x="1617" y="808" width="2" height="1" fill="#000"/>
<rect x="5" y="809" width="1" height="3" fill="#000"/>
<text x="4" y="821" font-size="10" letter-spacing="-0.3" fill="#000">28 Jun 2022</text>
<rect x="69" y="809" width="1" height="3" fill="#000"/>
<text x="68" y="821" font-size="10" letter-spacing="-0.3" fill="#000">29 Jun 00:00</text>
<rect x="133" y="809" width="1" height="3" fill="#000"/>
<text x="132" y="821" font-size="10" letter-spacing="-0.3" fill="#000">29 Jun 16:00</text>
<rect x="197" y="809" width="1" height="3" fill="#000"/>
<text x="196" y="821" font-size="10" letter-spacing="-0.3" fill="#000">30 Jun 08:00</text>
<rect x="261" y="809" width="1" height="3" fill="#000"/>
<text x="260" y="821" font-size="10" letter-spacing="-0.3" fill="#000">1 Jul 00:00</text>
<rect x="325" y="809" width="1" height="3" fill="#000"/>
<text x="324" y="821" font-size="10" letter-spacing="-0.3" fill="#000">1 Jul 16:00</text>
<rect x="389" y="809" width="1" height="3" fill="#000"/>
<text x="388" y="821" font-size="10" letter-spacing="-0.3" fill="#000">4 Jul 08:00</text>
<rect x="453" y="809" width="1" height="3" fill="#000"/>
<text x="452" y="821" font-size="10" letter-spacing="-0.3" fill="#000">5 Jul 00:00</text>
<rect x="517" y="809" width="1" height="3" fill="#000"/>
<text x="516" y="821" font-size="10" letter-spacing="-0.3" fill="#000">5 Jul 16:00</text>
<rect x="581" y="809" width="1" height="3" fill="#000"/>
<text x="580" y="821" font-size="10" letter-spacing="-0.3" fill="#000">6 Jul 08:00</text>
<rect x="645" y="809" width="1" height="3" fill="#000"/>
<text x="644" y="821" font-size="10" letter-spacing="-0.3" fill="#000">7 Jul 00:00</text>
<rect x="709" y="809" width="1" height="3" fill="#000"/>
<text x="708" y="821" font-size="10" letter-spacing="-0.3" fill="#000">7 Jul 16:00</text>
<rect x="773" y="809" width="1" height="3" fill="#000"/>
<text x="772" y="821" font-size="10" letter-spacing="-0.3" fill="#000">8 Jul 08:00</text>
<rect x="837" y="809" width="1" height="3" fill="#000"/>
<text x="836" y="821" font-size="10" letter-spacing="-0.3" fill="#000">11 Jul 00:00</text>
<rect x="901" y="809" width="1" height="3" fill="#000"/>
<text x="900" y="821" font-size="10" letter-spacing="-0.3" fill="#000">11 Jul 16:00</text>
<rect x="965" y="809" width="1" height="3" fill="#000"/>
<text x="964" y="821" font-size="10" letter-spacing="-0.3" fill="#000">12 Jul 08:00</text>
<rect x="1029" y="809" width="1" height="3" fill="#000"/>
<text x="1028" y="821" font-size="10" letter-spacing="-0.3" fill="#000">13 Jul 00:00</text>
<rect x="1093" y="809" width="1" height="3" fill="#000"/>
<text x="1092" y="821" font-size="10" letter-spacing="-0.3" fill="#000">13 Jul 16:00</text>
<rect x="1157" y="809" width="1" height="3" fill="#000"/>
<text x="1156" y="821" font-size="10" letter-spacing="-0.3" fill="#000">14 Jul 08:00</text>
<rect x="1221" y="809" width="1" height="3" fill="#000"/>
<text x="1220" y="821" font-size="10" letter-spacing="-0.3" fill="#000">15 Jul 00:00</text>
<rect x="1285" y="809" width="1" height="3" fill="#000"/>
<text x="1284" y="821" font-size="10" letter-spacing="-0.3" fill="#000">15 Jul 16:00</text>
<rect x="1349" y="809" width="1" height="3" fill="#000"/>
<text x="1348" y="821" font-size="10" letter-spacing="-0.3" fill="#000">18 Jul 08:00</text>
<line x1="1207.5" y1="567.8" x2="1420" y2="439" stroke="#e8141e" stroke-width="3.1" shape-rendering="geometricPrecision"/>
<path d="M1414 431.4 L1433.1 429.7 L1423 446.2 Z" fill="#e8141e" shape-rendering="geometricPrecision"/>
<rect x="0" y="10" width="3" height="4" fill="#10c010"/>
<path d="M9.4,0.8 L9.9,1.9" fill="none" stroke="#111" stroke-width="1.0" shape-rendering="geometricPrecision"/>
<path d="M6,2.3 L11.8,2.3" fill="none" stroke="#111" stroke-width="1.0" shape-rendering="geometricPrecision"/>
<path d="M7.4,3.2 L8,4.3" fill="none" stroke="#111" stroke-width="1.0" shape-rendering="geometricPrecision"/>
<path d="M11.2,3.2 L10.6,4.3" fill="none" stroke="#111" stroke-width="1.0" shape-rendering="geometricPrecision"/>
<path d="M6,5.3 L12.3,5.3" fill="none" stroke="#111" stroke-width="1.0" shape-rendering="geometricPrecision"/>
<path d="M6.5,7.3 L12,7.3" fill="none" stroke="#111" stroke-width="1.0" shape-rendering="geometricPrecision"/>
<path d="M9.4,5.3 L9.4,11.5 L7.4,11.5" fill="none" stroke="#111" stroke-width="1.0" shape-rendering="geometricPrecision"/>
<path d="M8.6,8.6 L6.3,10.2" fill="none" stroke="#111" stroke-width="1.0" shape-rendering="geometricPrecision"/>
<path d="M10.4,8.6 L12.1,10.2" fill="none" stroke="#111" stroke-width="1.0" shape-rendering="geometricPrecision"/>
<path d="M15.9,2.1 L13.6,2.8" fill="none" stroke="#111" stroke-width="1.0" shape-rendering="geometricPrecision"/>
<path d="M13.6,2.8 L13.6,11.5" fill="none" stroke="#111" stroke-width="1.0" shape-rendering="geometricPrecision"/>
<path d="M13.6,5.5 L17,5.5" fill="none" stroke="#111" stroke-width="1.0" shape-rendering="geometricPrecision"/>
<path d="M15.5,5.5 L15.5,11.6" fill="none" stroke="#111" stroke-width="1.0" shape-rendering="geometricPrecision"/>
<path d="M19.3,1.3 L20.5,3.2" fill="none" stroke="#111" stroke-width="1.0" shape-rendering="geometricPrecision"/>
<path d="M18.5,5.5 L20.2,5.5 L20.2,10.6 L22.6,8.4" fill="none" stroke="#111" stroke-width="1.0" shape-rendering="geometricPrecision"/>
<path d="M22.2,2.4 L29.8,2.4" fill="none" stroke="#111" stroke-width="1.0" shape-rendering="geometricPrecision"/>
<path d="M26.4,2.4 L26.4,11.5 L23.4,11.5" fill="none" stroke="#111" stroke-width="1.0" shape-rendering="geometricPrecision"/>
<path d="M32.6,0.8 L33.6,2.2" fill="none" stroke="#111" stroke-width="1.0" shape-rendering="geometricPrecision"/>
<path d="M38.6,0.8 L37.6,2.2" fill="none" stroke="#111" stroke-width="1.0" shape-rendering="geometricPrecision"/>
<path d="M31.6,3.6 L40.4,3.6 L40.4,9.4 L31.6,9.4 L31.6,3.6" fill="none" stroke="#111" stroke-width="1.0" shape-rendering="geometricPrecision"/>
<path d="M31.6,6.5 L40.4,6.5" fill="none" stroke="#111" stroke-width="1.0" shape-rendering="geometricPrecision"/>
<path d="M36,3.6 L36,12" fill="none" stroke="#111" stroke-width="1.0" shape-rendering="geometricPrecision"/>
<path d="M30,10.6 L42,10.6" fill="none" stroke="#111" stroke-width="1.0" shape-rendering="geometricPrecision"/>
<path d="M163.8,0.6 L162.8,2.4" fill="none" stroke="#111" stroke-width="1.0" shape-rendering="geometricPrecision"/>
<path d="M159.6,2.8 L168,2.8 L168,11.5 L159.6,11.5 L159.6,2.8" fill="none" stroke="#111" stroke-width="1.0" shape-rendering="geometricPrecision"/>
<path d="M159.6,5.8 L168,5.8" fill="none" stroke="#111" stroke-width="1.0" shape-rendering="geometricPrecision"/>
<path d="M159.6,8.5 L168,8.5" fill="none" stroke="#111" stroke-width="1.0" shape-rendering="geometricPrecision"/>
<path d="M171.5,2.5 L176,2.5" fill="none" stroke="#111" stroke-width="1.0" shape-rendering="geometricPrecision"/>
<path d="M170.6,5.3 L177,5.3" fill="none" stroke="#111" stroke-width="1.0" shape-rendering="geometricPrecision"/>
<path d="M173.6,5.5 L171.4,10.6 L176.2,10.2" fill="none" stroke="#111" stroke-width="1.0" shape-rendering="geometricPrecision"/>
<path d="M175.2,8.2 L176.6,10" fill="none" stroke="#111" stroke-width="1.0" shape-rendering="geometricPrecision"/>
<path d="M177,4.4 L181.5,4.4 L181.3,11 L179.8,11.6" fill="none" stroke="#111" stroke-width="1.0" shape-rendering="geometricPrecision"/>
<path d="M179.6,1 L179.5,6 L177.2,11.5" fill="none" stroke="#111" stroke-width="1.0" shape-rendering="geometricPrecision"/>
<path d="M188.2,0.8 L189,2.2" fill="none" stroke="#111" stroke-width="1.0" shape-rendering="geometricPrecision"/>
<path d="M182.6,3.4 L193.6,3.4" fill="none" stroke="#111" stroke-width="1.0" shape-rendering="geometricPrecision"/>
<path d="M185.6,5 L183.6,7.6" fill="none" stroke="#111" stroke-width="1.0" shape-rendering="geometricPrecision"/>
<path d="M190.4,5 L192.6,7.6" fill="none" stroke="#111" stroke-width="1.0" shape-rendering="geometricPrecision"/>
<path d="M190.8,6.8 L183,11.6" fill="none" stroke="#111" stroke-width="1.0" shape-rendering="geometricPrecision"/>
<path d="M185.2,8 L193.6,11.6" fill="none" stroke="#111" stroke-width="1.0" shape-rendering="geometricPrecision"/>
<path d="M196.6,1.5 L203.6,1.5 L203.6,6.4 L196.6,6.4 L196.6,1.5" fill="none" stroke="#111" stroke-width="1.0" shape-rendering="geometricPrecision"/>
<path d="M196.6,4 L203.6,4" fill="none" stroke="#111" stroke-width="1.0" shape-rendering="geometricPrecision"/>
<path d="M196,7.6 L204.6,7.6 L204.4,11.2 L202.8,11.6" fill="none" stroke="#111" stroke-width="1.0" shape-rendering="geometricPrecision"/>
<path d="M198.6,7.8 L195.4,11.6" fill="none" stroke="#111" stroke-width="1.0" shape-rendering="geometricPrecision"/>
<path d="M200.8,8 L197.6,11.6" fill="none" stroke="#111" stroke-width="1.0" shape-rendering="geometricPrecision"/>
<path d="M203,8 L199.8,11.6" fill="none" stroke="#111" stroke-width="1.0" shape-rendering="geometricPrecision"/>
<defs><linearGradient id="gold" x1="0" y1="0" x2="1" y2="1"><stop offset="0" stop-color="#fff2a0"/><stop offset="0.5" stop-color="#e8b820"/><stop offset="1" stop-color="#c89010"/></linearGradient><linearGradient id="cloud" x1="0" y1="0" x2="0" y2="1"><stop offset="0" stop-color="#ffffff"/><stop offset="1" stop-color="#b8c4d8"/></linearGradient><linearGradient id="radar" x1="0" y1="0" x2="1" y2="0.3"><stop offset="0" stop-color="#3060d0"/><stop offset="0.45" stop-color="#a0b8d8"/><stop offset="1" stop-color="#30a040"/></linearGradient><linearGradient id="tile" x1="0" y1="0" x2="0" y2="1"><stop offset="0" stop-color="#fafafa"/><stop offset="1" stop-color="#e6e6e6"/></linearGradient></defs>
<path d="M59.9,1.4 L69.2,9.4 L62,15.3 L54.4,9.8 L57.6,6.4 Z" fill="url(#gold)" stroke="#9a5c08" stroke-width="1" shape-rendering="geometricPrecision"/>
<path d="M55.6,10.4 L62.2,14.6" stroke="#f8e8a0" stroke-width="1" shape-rendering="geometricPrecision"/>
<rect x="84" y="0" width="11" height="10" fill="#1090f0" shape-rendering="geometricPrecision"/>
<path d="M85.5,1 L87.5,3 L87.5,9" stroke="#e0f4ff" stroke-width="0.8" fill="none" shape-rendering="geometricPrecision"/>
<rect x="89" y="4.5" width="4.5" height="1.2" fill="#e0f4ff" shape-rendering="geometricPrecision"/>
<circle cx="84.6" cy="12.6" r="3.2" fill="#3a5a98" shape-rendering="geometricPrecision"/>
<circle cx="90.4" cy="11.4" r="3.9" fill="#3a5a98" shape-rendering="geometricPrecision"/>
<circle cx="95.2" cy="12.4" r="3.2" fill="#3a5a98" shape-rendering="geometricPrecision"/>
<rect x="84" y="12" width="11.5" height="3.9" fill="#3a5a98" shape-rendering="geometricPrecision"/>
<circle cx="84.6" cy="12.6" r="2.2" fill="url(#cloud)" shape-rendering="geometricPrecision"/>
<circle cx="90.4" cy="11.4" r="2.9" fill="url(#cloud)" shape-rendering="geometricPrecision"/>
<circle cx="95.2" cy="12.4" r="2.2" fill="url(#cloud)" shape-rendering="geometricPrecision"/>
<rect x="84.5" y="12" width="10.8" height="2.9" fill="#d8dfea" shape-rendering="geometricPrecision"/>
<circle cx="118" cy="7.8" r="7.3" fill="none" stroke="url(#radar)" stroke-opacity="0.8" stroke-width="1.3" shape-rendering="geometricPrecision"/>
<circle cx="118" cy="7.8" r="4.8" fill="none" stroke="url(#radar)" stroke-opacity="0.7" stroke-width="1.3" shape-rendering="geometricPrecision"/>
<circle cx="118" cy="7.8" r="2" fill="#2050c8" shape-rendering="geometricPrecision"/>
<rect x="118" y="8" width="1.2" height="7.8" fill="#20a020" shape-rendering="geometricPrecision"/>
<path d="M138.5,7 L150,7 L145,15.5 Z" fill="#f8e060" stroke="#c89010" stroke-width="1" shape-rendering="geometricPrecision"/>
<ellipse cx="145" cy="5" rx="7.5" ry="2.6" fill="#70c0e8" stroke="#2a88b8" stroke-width="1" shape-rendering="geometricPrecision"/>
<ellipse cx="145" cy="2.6" rx="3" ry="2.6" fill="#80c8f0" stroke="#2a88b8" stroke-width="0.8" shape-rendering="geometricPrecision"/>
<circle cx="149.5" cy="11.9" r="4" fill="#e02010" stroke="#b01008" stroke-width="0.8" shape-rendering="geometricPrecision"/>
<rect x="148" y="10.4" width="3" height="3" fill="#fff"/>
<rect x="217" y="0" width="3" height="1" fill="#a8a8a8"/>
<rect x="217" y="2" width="3" height="1" fill="#a8a8a8"/>
<rect x="217" y="4" width="3" height="1" fill="#a8a8a8"/>
<rect x="217" y="6" width="3" height="1" fill="#a8a8a8"/>
<rect x="217" y="8" width="3" height="1" fill="#a8a8a8"/>
<rect x="217" y="10" width="3" height="1" fill="#a8a8a8"/>
<rect x="217" y="12" width="3" height="1" fill="#a8a8a8"/>
<rect x="217" y="14" width="3" height="1" fill="#a8a8a8"/>
<rect x="217" y="16" width="3" height="1" fill="#a8a8a8"/>
<rect x="230.9" y="3.2" width="1.2" height="12.5" fill="#555" shape-rendering="geometricPrecision"/>
<rect x="229" y="12.9" width="13" height="1.2" fill="#555" shape-rendering="geometricPrecision"/>
<path d="M229.5,4.4 L231.5,2.2 L233.5,4.4 Z" fill="#555" shape-rendering="geometricPrecision"/>
<path d="M240.8,11.5 L243,13.5 L240.8,15.5 Z" fill="#555" shape-rendering="geometricPrecision"/>
<path d="M240,4.3 L237.5,4.3 L237.5,10.6 L235,10.6" fill="none" stroke="#108a10" stroke-width="1.3" shape-rendering="geometricPrecision"/>
<rect x="251" y="0" width="1" height="18" fill="#a0a0a0"/>
<rect x="252" y="0" width="25" height="18" fill="#f7f7f7"/>
<rect x="252" y="18" width="25" height="1" fill="#fbfbfb"/>
<rect x="258.9" y="3.2" width="1.2" height="12.5" fill="#555" shape-rendering="geometricPrecision"/>
<rect x="257" y="12.9" width="13" height="1.2" fill="#555" shape-rendering="geometricPrecision"/>
<path d="M257.5,4.4 L259.5,2.2 L261.5,4.4 Z" fill="#555" shape-rendering="geometricPrecision"/>
<path d="M268.8,11.5 L271,13.5 L268.8,15.5 Z" fill="#555" shape-rendering="geometricPrecision"/>
<rect x="265.2" y="0" width="1" height="12" fill="#108010"/>
<rect x="263" y="2.3" width="5.2" height="7.7" fill="#40e040" stroke="#108010" stroke-width="1" shape-rendering="geometricPrecision"/>
<rect x="286.9" y="3.2" width="1.2" height="12.5" fill="#555" shape-rendering="geometricPrecision"/>
<rect x="285" y="12.9" width="13" height="1.2" fill="#555" shape-rendering="geometricPrecision"/>
<path d="M285.5,4.4 L287.5,2.2 L289.5,4.4 Z" fill="#555" shape-rendering="geometricPrecision"/>
<path d="M296.8,11.5 L299,13.5 L296.8,15.5 Z" fill="#555" shape-rendering="geometricPrecision"/>
<path d="M286.2,10.5 L289,7.5 L292,5.2 L295,7.3 L297.8,9.2" fill="none" stroke="#30a030" stroke-width="1.2" shape-rendering="geometricPrecision"/>
<rect x="308" y="0" width="1" height="18" fill="#a0a0a0"/>
<path d="M326.5,9.5 L332.5,14.8" stroke="#a07810" stroke-width="3.2" shape-rendering="geometricPrecision"/>
<path d="M326.5,9.5 L332.5,14.8" stroke="#f0d040" stroke-width="1.8" shape-rendering="geometricPrecision"/>
<circle cx="323" cy="5.8" r="5.6" fill="#dcf0fc" stroke="#2f74c0" stroke-width="1.1" shape-rendering="geometricPrecision"/>
<rect x="319.6" y="5" width="6.8" height="1.8" fill="#4a88b8"/>
<rect x="322.1" y="2.4" width="1.8" height="6.8" fill="#4a88b8"/>
<path d="M354.5,9.5 L360.5,14.8" stroke="#a07810" stroke-width="3.2" shape-rendering="geometricPrecision"/>
<path d="M354.5,9.5 L360.5,14.8" stroke="#f0d040" stroke-width="1.8" shape-rendering="geometricPrecision"/>
<circle cx="351" cy="5.8" r="5.6" fill="#dcf0fc" stroke="#2f74c0" stroke-width="1.1" shape-rendering="geometricPrecision"/>
<rect x="347.6" y="5" width="6.8" height="1.8" fill="#4a88b8"/>
<rect x="373" y="0" width="8" height="8" fill="#30a020"/>
<rect x="374" y="3" width="6" height="4" fill="#fff"/>
<rect x="381" y="0" width="8" height="8" fill="#2060d0"/>
<rect x="382" y="3" width="6" height="4" fill="#fff"/>
<rect x="373" y="8" width="8" height="8" fill="#2060d0"/>
<rect x="374" y="11" width="6" height="4" fill="#fff"/>
<rect x="381" y="8" width="8" height="8" fill="#30a020"/>
<rect x="382" y="11" width="6" height="4" fill="#fff"/>
<rect x="398" y="0" width="1" height="18" fill="#a0a0a0"/>
<rect x="403" y="0" width="1" height="18" fill="#a0a0a0"/>
<rect x="404" y="0" width="25" height="18" fill="#f7f7f7"/>
<rect x="404" y="18" width="25" height="1" fill="#fbfbfb"/>
<rect x="410.9" y="3.2" width="1.2" height="12.5" fill="#555" shape-rendering="geometricPrecision"/>
<rect x="409" y="12.9" width="13" height="1.2" fill="#555" shape-rendering="geometricPrecision"/>
<path d="M409.5,4.4 L411.5,2.2 L413.5,4.4 Z" fill="#555" shape-rendering="geometricPrecision"/>
<path d="M420.8,11.5 L423,13.5 L420.8,15.5 Z" fill="#555" shape-rendering="geometricPrecision"/>
<path d="M416.3,4.3 L420.2,7.5 L416.3,10.6 Z" fill="#60d060" stroke="#10a010" stroke-width="1" shape-rendering="geometricPrecision"/>
<rect x="431" y="0" width="1" height="18" fill="#a0a0a0"/>
<rect x="432" y="0" width="25" height="18" fill="#f7f7f7"/>
<rect x="432" y="18" width="25" height="1" fill="#fbfbfb"/>
<rect x="438.9" y="3.2" width="1.2" height="12.5" fill="#555" shape-rendering="geometricPrecision"/>
<rect x="437" y="12.9" width="13" height="1.2" fill="#555" shape-rendering="geometricPrecision"/>
<path d="M437.5,4.4 L439.5,2.2 L441.5,4.4 Z" fill="#555" shape-rendering="geometricPrecision"/>
<path d="M448.8,11.5 L451,13.5 L448.8,15.5 Z" fill="#555" shape-rendering="geometricPrecision"/>
<rect x="445" y="2" width="1.2" height="10" fill="#1870b0"/>
<path d="M446.5,7.6 L449.5,5.3 L449.5,6.9 L451,6.9 L451,8.3 L449.5,8.3 L449.5,9.9 Z" fill="#e05010" shape-rendering="geometricPrecision"/>
<rect x="460" y="0" width="1" height="18" fill="#a0a0a0"/>
<path d="M470.5,0.5 L479,0.5 L481.5,3 L481.5,13.5 L470.5,13.5 Z" fill="#fff" stroke="#808080" stroke-width="1" shape-rendering="geometricPrecision"/>
<path d="M475.5,3.5 C474,3.5 473.5,4.5 473.5,6 L473.5,11" fill="none" stroke="#404040" stroke-width="1" shape-rendering="geometricPrecision"/>
<path d="M478.8,8 h2.6 v3 h3 v2.6 h-3 v3 h-2.6 v-3 h-3 v-2.6 h3 Z" fill="#30d030" stroke="#108810" stroke-width="0.8" shape-rendering="geometricPrecision"/>
<path d="M491.8,6.9 L497.2,6.9 L494.5,9.9 Z" fill="#000" shape-rendering="geometricPrecision"/>
<circle cx="516" cy="8" r="7" fill="#fdfdfd" stroke="#1468c8" stroke-width="2.2" shape-rendering="geometricPrecision"/>
<path d="M515.5,4 L516,8.2 L518.5,8.2" fill="none" stroke="#222" stroke-width="1" shape-rendering="geometricPrecision"/>
<path d="M530.9,6.9 L536.3,6.9 L533.6,9.9 Z" fill="#000" shape-rendering="geometricPrecision"/>
<rect x="547" y="1" width="16" height="14" fill="#2a70d0"/>
<rect x="548" y="4" width="14" height="5" fill="#fff"/>
<rect x="548" y="10" width="14" height="4" fill="#fff"/>
<path d="M549,7.5 L552,6.8 L555,5.5 L558,6.3 L561,5.5" fill="none" stroke="#a02010" stroke-width="1" shape-rendering="geometricPrecision"/>
<path d="M549,12.5 L552,11.8 L555,12.3 L558,10.3 L560.5,12.5" fill="none" stroke="#20a020" stroke-width="1" shape-rendering="geometricPrecision"/>
<path d="M570,6.9 L575.4,6.9 L572.7,9.9 Z" fill="#000" shape-rendering="geometricPrecision"/>
<rect x="581" y="0" width="1" height="18" fill="#a0a0a0"/>
<rect x="585" y="0" width="3" height="1" fill="#a8a8a8"/>
<rect x="585" y="2" width="3" height="1" fill="#a8a8a8"/>
<rect x="585" y="4" width="3" height="1" fill="#a8a8a8"/>
<rect x="585" y="6" width="3" height="1" fill="#a8a8a8"/>
<rect x="585" y="8" width="3" height="1" fill="#a8a8a8"/>
<rect x="585" y="10" width="3" height="1" fill="#a8a8a8"/>
<rect x="585" y="12" width="3" height="1" fill="#a8a8a8"/>
<rect x="585" y="14" width="3" height="1" fill="#a8a8a8"/>
<rect x="585" y="16" width="3" height="1" fill="#a8a8a8"/>
<rect x="591" y="0" width="1" height="18" fill="#a0a0a0"/>
<rect x="592" y="0" width="24" height="18" fill="#f7f7f7"/>
<rect x="592" y="18" width="24" height="1" fill="#fbfbfb"/>
<path d="M599.2,0.9 L607,8.4 L603.6,8.9 L605.6,14.2 L603.9,15 L601.9,9.8 L599.2,11.8 Z" fill="#505050" shape-rendering="geometricPrecision"/>
<rect x="624" y="8" width="6" height="1" fill="#505050"/>
<rect x="633" y="8" width="6" height="1" fill="#505050"/>
<rect x="631" y="1" width="1" height="6" fill="#505050"/>
<rect x="631" y="10" width="1" height="6" fill="#505050"/>
<rect x="648" y="0" width="1" height="18" fill="#a0a0a0"/>
<rect x="665" y="2" width="1.4" height="13" fill="#505050"/>
<rect x="688" y="7.8" width="12" height="1.4" fill="#505050"/>
<path d="M716,15 L728,3" fill="none" stroke="#505050" stroke-width="1.2" shape-rendering="geometricPrecision"/>
<path d="M742,9.5 L749.5,2" fill="none" stroke="#505050" stroke-width="1" shape-rendering="geometricPrecision"/>
<path d="M743,14.5 L756,2.5" fill="none" stroke="#606060" stroke-width="1" shape-rendering="geometricPrecision"/>
<path d="M747,14.5 L756,6" fill="none" stroke="#505050" stroke-width="1" shape-rendering="geometricPrecision"/>
<path d="M744.5,12 L746,6.5" fill="none" stroke="#404040" stroke-width="1" shape-rendering="geometricPrecision"/>
<path d="M747,10 L748,4.5" fill="none" stroke="#404040" stroke-width="1" shape-rendering="geometricPrecision"/>
<path d="M749.5,8 L750.5,2.8" fill="none" stroke="#404040" stroke-width="1" shape-rendering="geometricPrecision"/>
<text x="752.5" y="17" font-size="6.5" font-weight="bold" fill="#404040">E</text>
<rect x="771" y="1" width="1" height="1" fill="#404040"/>
<rect x="773" y="1" width="1" height="1" fill="#404040"/>
<rect x="775" y="1" width="1" height="1" fill="#404040"/>
<rect x="777" y="1" width="1" height="1" fill="#404040"/>
<rect x="779" y="1" width="1" height="1" fill="#404040"/>
<rect x="781" y="1" width="1" height="1" fill="#404040"/>
<rect x="783" y="1" width="1" height="1" fill="#404040"/>
<rect x="771" y="4" width="1" height="1" fill="#404040"/>
<rect x="773" y="4" width="1" height="1" fill="#404040"/>
<rect x="775" y="4" width="1" height="1" fill="#404040"/>
<rect x="777" y="4" width="1" height="1" fill="#404040"/>
<rect x="779" y="4" width="1" height="1" fill="#404040"/>
<rect x="781" y="4" width="1" height="1" fill="#404040"/>
<rect x="783" y="4" width="1" height="1" fill="#404040"/>
<rect x="771" y="8" width="1" height="1" fill="#404040"/>
<rect x="773" y="8" width="1" height="1" fill="#404040"/>
<rect x="775" y="8" width="1" height="1" fill="#404040"/>
<rect x="777" y="8" width="1" height="1" fill="#404040"/>
<rect x="779" y="8" width="1" height="1" fill="#404040"/>
<rect x="781" y="8" width="1" height="1" fill="#404040"/>
<rect x="783" y="8" width="1" height="1" fill="#404040"/>
<rect x="771" y="12" width="1" height="1" fill="#404040"/>
<rect x="773" y="12" width="1" height="1" fill="#404040"/>
<rect x="775" y="12" width="1" height="1" fill="#404040"/>
<rect x="777" y="12" width="1" height="1" fill="#404040"/>
<rect x="779" y="12" width="1" height="1" fill="#404040"/>
<text x="780.5" y="17" font-size="6.5" font-weight="bold" fill="#404040">F</text>
<text x="801.5" y="13" font-size="12" fill="#505050">A</text>
<rect x="828" y="2" width="1" height="1" fill="#404040"/>
<rect x="828" y="14" width="1" height="1" fill="#404040"/>
<rect x="830" y="2" width="1" height="1" fill="#404040"/>
<rect x="830" y="14" width="1" height="1" fill="#404040"/>
<rect x="832" y="2" width="1" height="1" fill="#404040"/>
<rect x="832" y="14" width="1" height="1" fill="#404040"/>
<rect x="834" y="2" width="1" height="1" fill="#404040"/>
<rect x="834" y="14" width="1" height="1" fill="#404040"/>
<rect x="836" y="2" width="1" height="1" fill="#404040"/>
<rect x="836" y="14" width="1" height="1" fill="#404040"/>
<rect x="838" y="2" width="1" height="1" fill="#404040"/>
<rect x="838" y="14" width="1" height="1" fill="#404040"/>
<rect x="828" y="2" width="1" height="1" fill="#404040"/>
<rect x="839" y="2" width="1" height="1" fill="#404040"/>
<rect x="828" y="4" width="1" height="1" fill="#404040"/>
<rect x="839" y="4" width="1" height="1" fill="#404040"/>
<rect x="828" y="6" width="1" height="1" fill="#404040"/>
<rect x="839" y="6" width="1" height="1" fill="#404040"/>
<rect x="828" y="8" width="1" height="1" fill="#404040"/>
<rect x="839" y="8" width="1" height="1" fill="#404040"/>
<rect x="828" y="10" width="1" height="1" fill="#404040"/>
<rect x="839" y="10" width="1" height="1" fill="#404040"/>
<rect x="828" y="12" width="1" height="1" fill="#404040"/>
<rect x="839" y="12" width="1" height="1" fill="#404040"/>
<rect x="828" y="14" width="1" height="1" fill="#404040"/>
<rect x="839" y="14" width="1" height="1" fill="#404040"/>
<rect x="830" y="5" width="7.5" height="1.4" fill="#505050"/>
<rect x="833" y="5" width="1.6" height="7.5" fill="#505050"/>
<path d="M855,6 L858.3,2 L861.7,6 Z" fill="#505050" shape-rendering="geometricPrecision"/>
<path d="M857.3,9 L859.3,11.3 L863.6,6.6" fill="none" stroke="#505050" stroke-width="1.2" shape-rendering="geometricPrecision"/>
<path d="M862.4,10 L869,10 L865.7,14.9 Z" fill="#505050" shape-rendering="geometricPrecision"/>
<path d="M875.9,6.9 L881.3,6.9 L878.6,9.9 Z" fill="#000" shape-rendering="geometricPrecision"/>
<rect x="887" y="0" width="1" height="18" fill="#a0a0a0"/>
<rect x="891" y="0" width="3" height="1" fill="#a8a8a8"/>
<rect x="891" y="2" width="3" height="1" fill="#a8a8a8"/>
<rect x="891" y="4" width="3" height="1" fill="#a8a8a8"/>
<rect x="891" y="6" width="3" height="1" fill="#a8a8a8"/>
<rect x="891" y="8" width="3" height="1" fill="#a8a8a8"/>
<rect x="891" y="10" width="3" height="1" fill="#a8a8a8"/>
<rect x="891" y="12" width="3" height="1" fill="#a8a8a8"/>
<rect x="891" y="14" width="3" height="1" fill="#a8a8a8"/>
<rect x="891" y="16" width="3" height="1" fill="#a8a8a8"/>
<text x="902.5" y="12" font-size="10" letter-spacing="-0.2" fill="#333">M1</text>
<text x="930.5" y="12" font-size="10" letter-spacing="-0.2" fill="#333">M5</text>
<text x="956.5" y="12" font-size="10" letter-spacing="-0.2" fill="#333">M15</text>
<text x="984" y="12" font-size="10" letter-spacing="-0.2" fill="#333">M30</text>
<text x="1015.5" y="12" font-size="10" letter-spacing="-0.2" fill="#333">H1</text>
<rect x="1037" y="0" width="1" height="18" fill="#a0a0a0"/>
<rect x="1038" y="0" width="25" height="18" fill="#f7f7f7"/>
<text x="1042.3" y="12" font-size="10" letter-spacing="-0.2" fill="#333">H4</text>
<text x="1071.6" y="12" font-size="10" letter-spacing="-0.2" fill="#333">D1</text>
<text x="1098.5" y="12" font-size="10" letter-spacing="-0.2" fill="#333">W1</text>
<text x="1125.5" y="12" font-size="10" letter-spacing="-0.2" fill="#333">MN</text>
<rect x="1148" y="0" width="1" height="18" fill="#a0a0a0"/>
<circle cx="1618.5" cy="5.3" r="3.9" fill="#f4f4ff" stroke="#2a62d8" stroke-width="1.4" shape-rendering="geometricPrecision"/>
<path d="M1615.8,8.3 L1611.6,12.8" stroke="#2a62d8" stroke-width="2" stroke-linecap="round" shape-rendering="geometricPrecision"/>
<path d="M1636,10 C1636,6 1646,5.5 1647,9.5 C1647.5,12.5 1643,14 1639.5,13.6 L1638.3,16 L1638,13.2 C1636.6,12.6 1636,11.5 1636,10 Z" fill="#e0e2ea" stroke="#a8a8a8" stroke-width="1" shape-rendering="geometricPrecision"/>
<circle cx="1649.6" cy="5.4" r="8.2" fill="#e03018" shape-rendering="geometricPrecision"/>
<defs><linearGradient id="badge" x1="0" y1="0" x2="0" y2="1"><stop offset="0" stop-color="#ec6040"/><stop offset="1" stop-color="#d01808"/></linearGradient></defs>
<circle cx="1649.6" cy="5.4" r="8.2" fill="url(#badge)" shape-rendering="geometricPrecision"/>
<text x="1646" y="10" font-size="12.5" font-family="Liberation Serif" fill="#fff">1</text>
</svg>
</body></html>
